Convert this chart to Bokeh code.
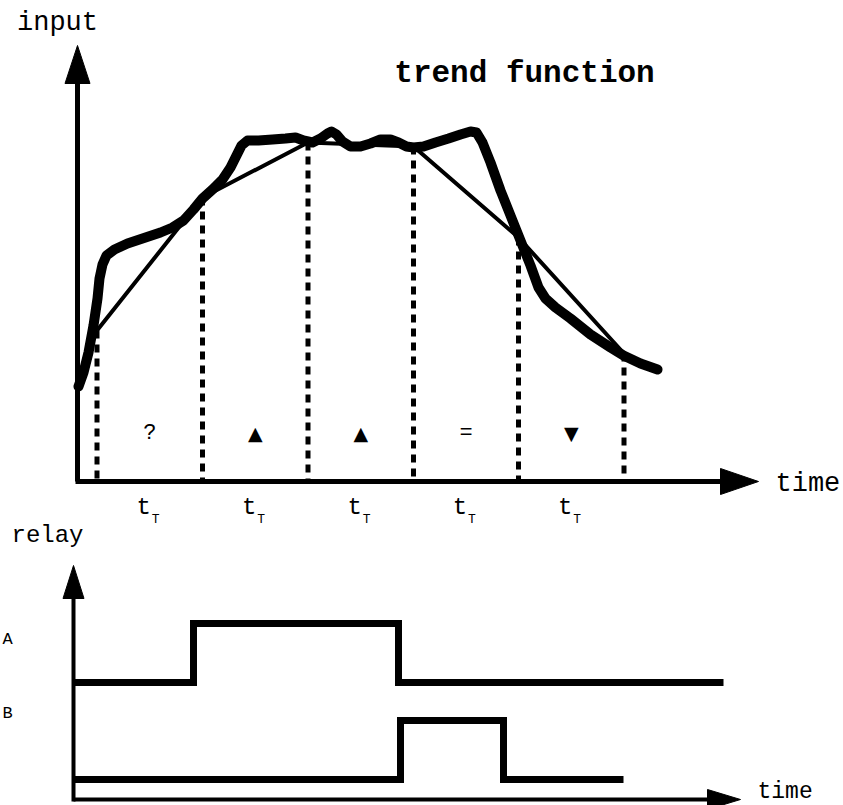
from bokeh.plotting import figure
from bokeh.models import Range1d
from bokeh.embed import file_html
from bokeh.resources import INLINE
from bokeh.core.properties import value

# ---------------- data (drawing units = pixels of the sketch) ----------------
# upper diagram: input signal and trend function
sample_x = [96.5, 202, 307.5, 413, 518, 623.5]      # sample instants (every t_T)
sample_y = [330, 197, 142, 146, 237, 353]           # sampled input values
trend_symbols = ["?", "▲", "▲", "=", "▼"]
period_main = "t"
period_sub = "T"

curve_x = [78, 83, 88, 93, 97, 99, 102, 106, 114, 127, 145, 160, 172, 183, 193, 202,
           212, 222, 230, 236, 241, 247, 258, 272, 285, 295, 303, 312, 320, 327,
           331, 336, 342, 350, 360, 370, 380, 390, 398, 406, 413, 423, 435, 448,
           460, 470, 476, 482, 490, 500, 510, 520, 530, 538, 545, 555, 570, 590,
           610, 623, 640, 657]
curve_y = [386, 372, 352, 325, 298, 278, 264, 255, 249, 243, 237, 232, 227, 220, 209, 198,
           189, 179, 167, 155, 145, 140, 140, 139, 138, 137, 140, 142, 138, 133,
           131, 134, 141, 146, 146, 143, 139, 139, 142, 146, 147, 146, 142, 138,
           134, 131, 132, 142, 162, 190, 215, 240, 265, 287, 298, 307, 318, 334,
           347, 355, 363, 369]

input_axis_x = 77
input_axis_top = 45
time_axis_y = 481
time_axis_right = 758

# lower diagram: relay outputs
relay_axis_x = 73
relay_axis_top = 565
relay_time_axis_y = 799
relay_time_axis_right = 740
relay_A_x = [73, 193, 398, 723]
relay_A_y = [682, 623, 682, 682]
relay_B_x = [73, 400, 503, 623]
relay_B_y = [779, 720, 779, 779]
relay_names = ["A", "B"]
relay_name_y = [639, 713]

MONO = value("Liberation Mono")

W, H = 843, 805
p = figure(width=W, height=H, x_range=Range1d(0, W), y_range=Range1d(H, 0),
           output_backend="svg", toolbar_location=None, min_border=0,
           x_axis_location=None, y_axis_location=None)
p.grid.visible = False
p.outline_line_color = None
p.background_fill_color = "white"
p.border_fill_color = "white"

# dashed sample lines
p.segment(x0=sample_x, y0=sample_y, x1=sample_x, y1=[time_axis_y] * len(sample_x),
          line_color="black", line_width=5, line_dash="8 6")

# input curve (thick) and trend function (thin)
p.line(curve_x, curve_y, line_color="black", line_width=10, line_join="round", line_cap="round")
p.line(sample_x, sample_y, line_color="black", line_width=4, line_join="miter")

# upper axes with arrow heads
p.segment(x0=[input_axis_x], y0=[time_axis_y], x1=[input_axis_x], y1=[input_axis_top + 30],
          line_color="black", line_width=5)
p.segment(x0=[input_axis_x - 2], y0=[time_axis_y], x1=[time_axis_right - 30], y1=[time_axis_y],
          line_color="black", line_width=5)
p.patch([input_axis_x, input_axis_x - 12.5, input_axis_x + 12.5],
        [input_axis_top, input_axis_top + 38, input_axis_top + 38],
        fill_color="black", line_color="black", line_width=1)
p.patch([time_axis_right, time_axis_right - 38, time_axis_right - 38],
        [time_axis_y, time_axis_y - 13, time_axis_y + 13],
        fill_color="black", line_color="black", line_width=1)

# labels upper
p.text(x=[57], y=[22], text=["input"], text_font=MONO, text_font_size="27px",
       text_align="center", text_baseline="middle", text_color="black")
p.text(x=[524], y=[73], text=["trend function"], text_font=MONO, text_font_size="31px",
       text_font_style="bold", text_align="center", text_baseline="middle", text_color="black")
p.text(x=[775], y=[483], text=["time"], text_font=MONO, text_font_size="27px",
       text_align="left", text_baseline="middle", text_color="black")

mids = [(a + b) / 2 for a, b in zip(sample_x[:-1], sample_x[1:])]
sym_text = [s for s in trend_symbols if s in ("?", "=")]
sym_x = [m for m, s in zip(mids, trend_symbols) if s in ("?", "=")]
tri_text = [s for s in trend_symbols if s not in ("?", "=")]
tri_x = [m for m, s in zip(mids, trend_symbols) if s not in ("?", "=")]
p.text(x=sym_x, y=[433] * len(sym_x), text=sym_text, text_font=MONO, text_font_size="22px",
       text_align="center", text_baseline="middle", text_color="black")
p.text(x=tri_x, y=[432] * len(tri_x), text=tri_text, text_font=value("DejaVu Sans"),
       text_font_size="19px", text_align="center", text_baseline="middle", text_color="black")

p.text(x=[m - 6 for m in mids], y=[507] * len(mids), text=[period_main] * len(mids),
       text_font=MONO, text_font_size="24px", text_align="center", text_baseline="middle",
       text_color="black")
p.text(x=[m + 6 for m in mids], y=[519] * len(mids), text=[period_sub] * len(mids),
       text_font=MONO, text_font_size="13px", text_align="center", text_baseline="middle",
       text_color="black")

# lower diagram
p.step(relay_A_x, relay_A_y, mode="after", line_color="black", line_width=7, line_join="miter")
p.step(relay_B_x, relay_B_y, mode="after", line_color="black", line_width=7, line_join="miter")

p.segment(x0=[relay_axis_x], y0=[relay_time_axis_y + 2], x1=[relay_axis_x], y1=[relay_axis_top + 30],
          line_color="black", line_width=4)
p.segment(x0=[relay_axis_x], y0=[relay_time_axis_y], x1=[relay_time_axis_right - 30], y1=[relay_time_axis_y],
          line_color="black", line_width=4)
p.patch([relay_axis_x, relay_axis_x - 10.5, relay_axis_x + 10.5],
        [relay_axis_top, relay_axis_top + 33, relay_axis_top + 33],
        fill_color="black", line_color="black", line_width=1)
p.patch([relay_time_axis_right, relay_time_axis_right - 33, relay_time_axis_right - 33],
        [relay_time_axis_y, relay_time_axis_y - 10, relay_time_axis_y + 10],
        fill_color="black", line_color="black", line_width=1)

p.text(x=[11], y=[535], text=["relay"], text_font=MONO, text_font_size="24px",
       text_align="left", text_baseline="middle", text_color="black")
p.text(x=[2, 2], y=relay_name_y, text=relay_names, text_font=MONO, text_font_size="17px",
       text_align="left", text_baseline="middle", text_color="black")
p.text(x=[757], y=[791], text=["time"], text_font=MONO, text_font_size="23px",
       text_align="left", text_baseline="middle", text_color="black")

open("out.html", "w").write(file_html(p, INLINE))
